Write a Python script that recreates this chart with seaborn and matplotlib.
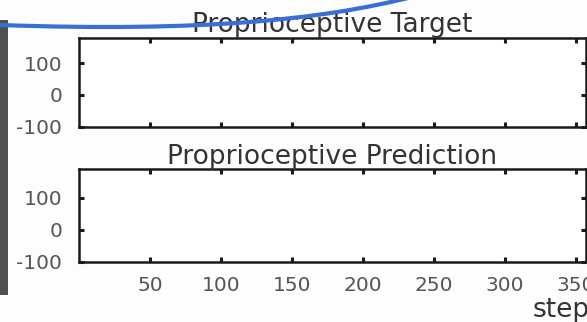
import numpy as np
import pandas as pd
import matplotlib
matplotlib.use("Agg")
import matplotlib.pyplot as plt
from matplotlib.path import Path
from matplotlib.patches import PathPatch, Rectangle
import seaborn as sns

# Panel titles and axis settings
titles = ["Proprioceptive Target", "Proprioceptive Prediction"]
x_ticks = [50, 100, 150, 200, 250, 300, 350]
y_ticks = [-100, 0, 100]
x_range = [0, 357]
y_ranges = [[-100, 180], [-100, 190]]
x_label = "step"

# Both panels are empty: no samples recorded yet
steps = []
values = []

sns.set_theme(style="ticks")
plt.rcParams["font.family"] = ["DejaVu Sans"]
plt.rcParams["axes.unicode_minus"] = False

W, H = 587, 322
fig = plt.figure(figsize=(W / 100, H / 100), dpi=100)
fig.patch.set_facecolor("#fdfdfd")

def fx(px):
    return px / W

def fy(py):
    return 1 - py / H

boxes = [(79, 37.7, 585.5, 126.7), (79, 169.3, 585.5, 261.7)]
axes = []
for (l, t, r, b), title, ylim in zip(boxes, titles, y_ranges):
    ax = fig.add_axes([fx(l), fy(b), fx(r) - fx(l), fy(t) - fy(b)])
    df = pd.DataFrame({"step": pd.Series(steps, dtype=float),
                       "value": pd.Series(values, dtype=float)})
    sns.lineplot(data=df, x="step", y="value", ax=ax, color="#1f77b4")
    ax.set_xlim(*x_range)
    ax.set_ylim(*ylim)
    ax.set_xticks(x_ticks)
    ax.set_yticks(y_ticks)
    ax.set_xlabel("")
    ax.set_ylabel("")
    ax.set_facecolor("white")
    for s in ax.spines.values():
        s.set_visible(True)
        s.set_linewidth(1.8)
        s.set_color("#1a1a1a")
    ax.tick_params(direction="in", length=3.5, width=2.2, color="#1a1a1a",
                   top=True, right=True, labelsize=14.5, labelcolor="#555555")
    ax.tick_params(axis="y", pad=12)
    ax.set_title(title, fontsize=19, color="#333333", pad=4)
    axes.append(ax)

axes[0].tick_params(labelbottom=False)
axes[1].tick_params(axis="x", pad=10)

fig.text(fx(533), fy(317), x_label, fontsize=19, color="#333333",
         ha="left", va="baseline")

# Dark sidebar at the left edge
fig.patches.append(Rectangle((0, fy(295)), fx(7.5), fy(20) - fy(295),
                             transform=fig.transFigure, facecolor="#505050",
                             edgecolor="none", zorder=5))

# Blue stroke across the top
pts = [(0, 25), (200, 32), (320, 20), (412, -3)]
verts = [(fx(x), fy(y)) for x, y in pts]
curve = Path(verts, [Path.MOVETO, Path.CURVE4, Path.CURVE4, Path.CURVE4])
fig.patches.append(PathPatch(curve, transform=fig.transFigure, facecolor="none",
                             edgecolor="#3a6ed7", linewidth=3.0, zorder=10,
                             capstyle="butt"))

fig.savefig("out.png", dpi=100, facecolor=fig.get_facecolor())
